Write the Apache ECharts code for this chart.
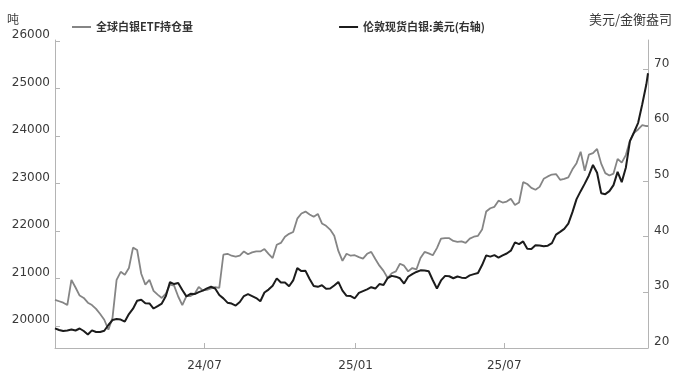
<!DOCTYPE html>
<html><head><meta charset="utf-8">
<script src="https://cdn.jsdelivr.net/npm/echarts@6/dist/echarts.min.js"></script>
<style>html,body{margin:0;padding:0;background:#fff}#c{width:679px;height:379px}</style>
</head><body><div id="c"></div>
<script>
// ---- data ----
const startDate = '2024-01-01';
const endDate = '2025-12-23';
const stepDays = 5;
const seriesNames = ['全球白银ETF持仓量', '伦敦现货白银:美元(右轴)'];
const leftUnit = '吨';
const rightUnit = '美元/金衡盎司';
const leftTicks = [20000, 21000, 22000, 23000, 24000, 25000, 26000];
const rightTicks = [20, 30, 40, 50, 60, 70];
const xTickDates = ['2024-07-01', '2025-01-01', '2025-07-01'];

const etfValues = [
 20550,20520,20490,20440,20970,20810,20640,20590,20490,20440,
 20360,20250,20130,19920,20170,20970,21140,21080,21220,21650,
 21600,21100,20870,20970,20740,20660,20590,20680,20870,20850,
 20620,20440,20630,20630,20680,20820,20750,20760,20790,20820,
 20800,21500,21520,21480,21460,21480,21570,21510,21550,21570,
 21570,21620,21520,21430,21710,21750,21880,21940,21980,22260,
 22370,22410,22350,22300,22360,22160,22110,22030,21900,21580,
 21370,21520,21480,21490,21450,21420,21520,21560,21410,21270,
 21160,21010,21110,21150,21310,21270,21150,21220,21190,21430,
 21560,21530,21490,21640,21840,21850,21850,21790,21770,21780,
 21750,21840,21880,21900,22030,22410,22480,22510,22640,22600,
 22620,22680,22550,22600,23030,22990,22910,22870,22930,23100,
 23150,23190,23200,23080,23100,23130,23300,23430,23670,23270,
 23610,23640,23730,23420,23220,23170,23210,23520,23440,23600,
 23900,24070,24140,24230,24210,24210
];
const silverValues = [
 23.53,23.23,23.05,23.14,23.32,23.14,23.50,23.05,22.42,23.17,
 22.87,22.87,23.10,24.13,25.02,25.20,25.11,24.75,26.10,27.05,
 28.48,28.66,28.04,28.00,27.09,27.53,27.98,29.33,31.84,31.48,
 31.66,30.40,29.27,29.72,29.69,30.04,30.31,30.71,31.00,30.69,
 29.51,28.91,28.14,27.98,27.62,28.25,29.33,29.69,29.33,28.97,
 28.39,29.96,30.49,31.19,32.50,31.75,31.75,31.09,32.13,34.35,
 33.81,33.85,32.38,31.12,30.98,31.26,30.62,30.67,31.23,31.87,
 30.31,29.38,29.33,28.93,29.90,30.22,30.53,30.91,30.67,31.48,
 31.30,32.56,32.95,32.81,32.52,31.57,32.79,33.27,33.65,33.95,
 33.90,33.78,32.16,30.69,32.13,32.95,32.88,32.52,32.84,32.63,
 32.57,33.04,33.27,33.47,34.89,36.63,36.41,36.68,36.23,36.63,
 36.97,37.47,38.96,38.65,39.14,37.81,37.79,38.44,38.40,38.26,
 38.37,38.83,40.36,40.86,41.38,42.33,44.39,46.73,48.16,49.51,
 50.98,52.86,51.46,47.80,47.62,48.16,49.24,51.62,49.78,52.36,
 57.13,58.74,60.43,63.77,67.35,69.33
];

// ---- build dates (timestamps on a continuous axis) ----
const DAY = 86400000;
const t0 = Date.parse(startDate);
const tEnd = Date.parse(endDate);
const dates = [];
for (let i = 0; i < etfValues.length - 1; i++) dates.push(t0 + i * stepDays * DAY);
dates.push(tEnd);
const xTicks = xTickDates.map(d => Date.parse(d));

const txt = '#3a3a3a';
const axisCol = '#b4b4b4';
const numFont = 'DejaVu Sans';
const cjkFont = 'Noto Sans CJK SC';

const chart = echarts.init(document.getElementById('c'), null, {renderer: 'canvas'});
chart.setOption({
  animation: false,
  backgroundColor: '#fff',
  grid: {left: 55, right: 31, top: 40, bottom: 31},
  legend: {
    top: 15, left: 67, itemGap: 146, itemWidth: 19, itemHeight: 2, icon: 'rect',
    textStyle: {fontSize: 11, fontWeight: 'bold', color: '#333', fontFamily: cjkFont, lineHeight: 14},
    data: seriesNames
  },
  graphic: [
    {type: 'text', left: 7, top: 13, style: {text: leftUnit, fontSize: 12, fill: txt, fontFamily: cjkFont}},
    {type: 'text', left: 589, top: 13, style: {text: rightUnit, fontSize: 13, fill: txt, fontFamily: cjkFont}}
  ],
  xAxis: {
    type: 'value', min: t0, max: tEnd, scale: true,
    axisLine: {lineStyle: {color: axisCol, width: 1}},
    axisTick: {inside: true, length: 5, lineStyle: {color: axisCol}, customValues: xTicks},
    splitLine: {show: false},
    axisLabel: {
      customValues: xTicks, margin: 12, fontSize: 12, color: txt, fontFamily: numFont,
      formatter: v => { const d = new Date(v); return String(d.getUTCFullYear()).slice(2) + '/' + String(d.getUTCMonth() + 1).padStart(2, '0'); }
    }
  },
  yAxis: [
    {
      type: 'value', min: 19535, max: 26025, position: 'left',
      axisLine: {show: true, lineStyle: {color: axisCol}},
      axisTick: {show: true, inside: true, length: 5, lineStyle: {color: axisCol}, customValues: leftTicks},
      splitLine: {show: false},
      axisLabel: {customValues: leftTicks, margin: 5, fontSize: 12, color: txt, fontFamily: numFont, verticalAlign: 'bottom', formatter: v => String(v)}
    },
    {
      type: 'value', min: 20, max: 75.3, position: 'right',
      axisLine: {show: true, lineStyle: {color: axisCol}},
      axisTick: {show: true, inside: true, length: 5, lineStyle: {color: axisCol}, customValues: rightTicks},
      splitLine: {show: false},
      axisLabel: {customValues: rightTicks, margin: 6, fontSize: 12, color: txt, fontFamily: numFont, verticalAlign: 'bottom', formatter: v => String(v)}
    }
  ],
  series: [
    {
      name: seriesNames[0], type: 'line', yAxisIndex: 0, symbol: 'none',
      data: dates.map((d, i) => [d, etfValues[i]]),
      color: '#858585', lineStyle: {width: 1.8, color: '#858585'}
    },
    {
      name: seriesNames[1], type: 'line', yAxisIndex: 1, symbol: 'none',
      data: dates.map((d, i) => [d, silverValues[i]]),
      color: '#1c1c1c', lineStyle: {width: 2, color: '#1c1c1c'}
    }
  ]
});
</script></body></html>
